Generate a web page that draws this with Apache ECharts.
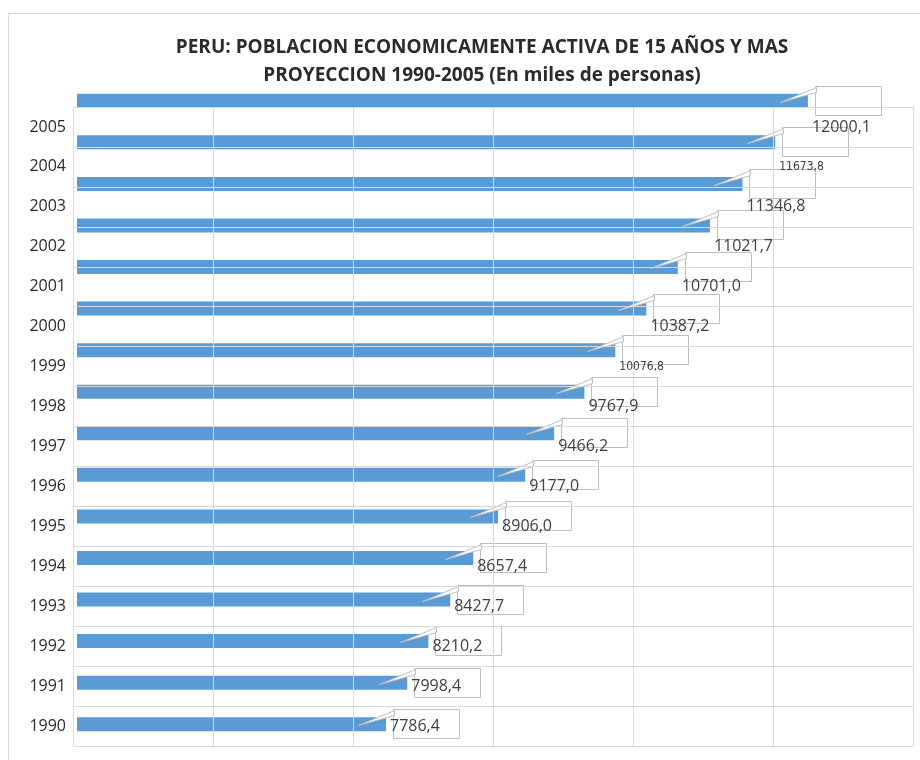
<!DOCTYPE html>
<html>
<head>
<meta charset="utf-8">
<script src="https://cdn.jsdelivr.net/npm/echarts@6/dist/echarts.min.js"></script>
<style>
  html, body { margin: 0; padding: 0; background: #fff; }
  #chart { width: 920px; height: 760px; }
</style>
</head>
<body>
<div id="chart"></div>
<script>
// PEA Peru 1990-2005, miles de personas
var years = ['1990', '1991', '1992', '1993', '1994', '1995', '1996', '1997',
             '1998', '1999', '2000', '2001', '2002', '2003', '2004', '2005'];
var pea = [7786.4, 7998.4, 8210.2, 8427.7, 8657.4, 8906.0, 9177.0, 9466.2,
           9767.9, 10076.8, 10387.2, 10701.0, 11021.7, 11346.8, 11673.8, 12000.1];
var gridTicks = [0, 1, 2, 3, 4, 5, 6];

var xMin = 4700, xMax = 13050;
var grey = '#d9d9d9';
var txt = '#404040';
// these two labels look squeezed in the original
var narrow = { '1999': true, '2004': true };

function fmt(v) { return v.toFixed(1).replace('.', ','); }

var textData = pea.map(function (v, i) {
    var item = { value: v };
    if (narrow[years[i]]) {
        item.label = { fontSize: 12, fontFamily: "'Liberation Sans Narrow', 'DejaVu Sans Condensed', sans-serif" };
    }
    return item;
});

var option = {
    animation: false,
    backgroundColor: '#fff',
    title: {
        text: 'PERU: POBLACION ECONOMICAMENTE ACTIVA DE 15 AÑOS Y MAS\nPROYECCION 1990-2005 (En miles de personas)',
        left: 477,
        top: 29,
        textAlign: 'center',
        textStyle: {
            fontFamily: 'Open Sans',
            fontWeight: 'bold',
            fontSize: 19,
            lineHeight: 28,
            color: '#2b2b2b'
        }
    },
    graphic: [{
        type: 'rect',
        shape: { x: 8.5, y: 13.5, width: 1000, height: 1000 },
        style: { fill: 'none', stroke: grey, lineWidth: 1 },
        silent: true
    }],
    grid: [
        { left: 73, top: 107, width: 840, height: 639 },   // year labels + gridlines
        { left: 77, top: 80, width: 836, height: 665 },    // bars + callouts
        { left: 77, top: 107, width: 836, height: 639 }    // value texts
    ],
    xAxis: [
        {
            gridIndex: 0, type: 'value', min: gridTicks[0], max: gridTicks[gridTicks.length - 1], interval: 1,
            z: 5,
            axisLine: { show: false }, axisTick: { show: false }, axisLabel: { show: false },
            splitLine: { show: true, lineStyle: { color: grey, width: 1 } }
        },
        { gridIndex: 1, type: 'value', min: xMin, max: xMax, show: false },
        { gridIndex: 2, type: 'value', min: xMin, max: xMax, show: false }
    ],
    yAxis: [
        {
            gridIndex: 0, type: 'category', data: years,
            z: 5,
            axisLine: { show: true, lineStyle: { color: grey } },
            axisTick: { show: false },
            axisLabel: { margin: 7, fontFamily: 'Open Sans', fontSize: 16, color: '#2b2b2b' },
            splitLine: { show: true, lineStyle: { color: grey, width: 1 } }
        },
        { gridIndex: 1, type: 'category', data: years, show: false },
        { gridIndex: 2, type: 'category', data: years, show: false }
    ],
    series: [
        {
            type: 'bar',
            xAxisIndex: 1, yAxisIndex: 1,
            data: pea,
            barWidth: 14,
            itemStyle: { color: '#5b9bd5' },
            z: 2
        },
        {
            // callout boxes with the little pointer
            type: 'custom',
            xAxisIndex: 1, yAxisIndex: 1,
            data: pea.map(function (v, i) { return [v, i]; }),
            encode: { x: 0, y: 1 },
            z: 3,
            renderItem: function (params, api) {
                var p = api.coord([api.value(0), api.value(1)]);
                var x = Math.round(p[0]) + 0.5, y = Math.round(p[1]) + 0.5;
                return {
                    type: 'group',
                    children: [
                        {
                            type: 'rect',
                            shape: { x: x + 7, y: y - 15, width: 66, height: 29 },
                            style: { fill: 'none', stroke: '#bfbfbf', lineWidth: 1 }
                        },
                        {
                            type: 'polygon',
                            shape: { points: [[x - 28, y + 1], [x + 8, y - 14], [x + 8, y - 9]] },
                            style: { fill: '#fff', stroke: '#bfbfbf', lineWidth: 1 }
                        }
                    ]
                };
            }
        },
        {
            // value texts, aligned with the year labels
            type: 'bar',
            xAxisIndex: 2, yAxisIndex: 2,
            data: textData,
            barWidth: 1,
            itemStyle: { color: 'rgba(0,0,0,0)' },
            z: 6,
            label: {
                show: true,
                position: 'right',
                distance: 4,
                fontFamily: 'Open Sans',
                fontSize: 16,
                color: txt,
                formatter: function (p) { return fmt(pea[p.dataIndex]); }
            }
        }
    ]
};

var myChart = echarts.init(document.getElementById('chart'));
myChart.setOption(option);
</script>
</body>
</html>
